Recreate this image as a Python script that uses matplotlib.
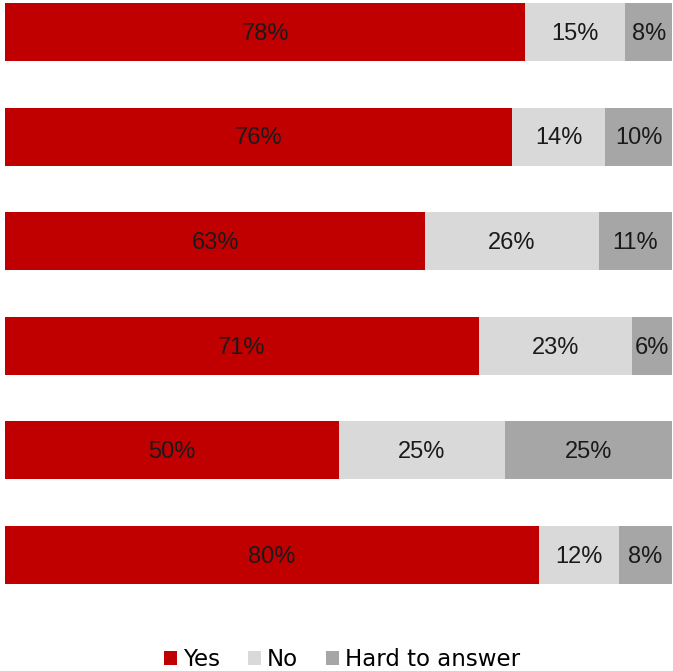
import matplotlib
matplotlib.use("Agg")
import matplotlib.pyplot as plt
import numpy as np

series = ["Yes", "No", "Hard to answer"]
yes = [78, 76, 63, 71, 50, 80]
no = [15, 14, 26, 23, 25, 12]
hard = [8, 10, 11, 6, 25, 8]
colors = ["#C00000", "#D9D9D9", "#A6A6A6"]

fig = plt.figure(figsize=(6.73, 6.71), dpi=100)
ax = fig.add_axes([5 / 673, 1 - 600 / 671, 667 / 673, 600 / 671])

rows = np.arange(len(yes))
left = np.zeros(len(yes))
for name, vals, col in zip(series, [yes, no, hard], colors):
    vals = np.array(vals, dtype=float)
    ax.barh(rows, vals, left=left, height=0.555, color=col, label=name)
    for r, l, v in zip(rows, left, vals):
        xc = (l + min(l + v, 100)) / 2
        ax.text(xc, r + 0.018, f"{int(v)}%", ha="center", va="center",
                fontsize=17, family="Liberation Sans", color="#1a1a1a")
    left += vals

ax.set_xlim(0, 100)
ax.set_ylim(5.43, -0.306)
ax.axis("off")

fig.legend(loc="center", bbox_to_anchor=(0.508, 0.017), ncol=3, frameon=False,
           fontsize=16.5, handlelength=0.6, handleheight=0.6, handletextpad=0.25,
           columnspacing=1.2, borderaxespad=0)

fig.savefig("out.png", dpi=100)
